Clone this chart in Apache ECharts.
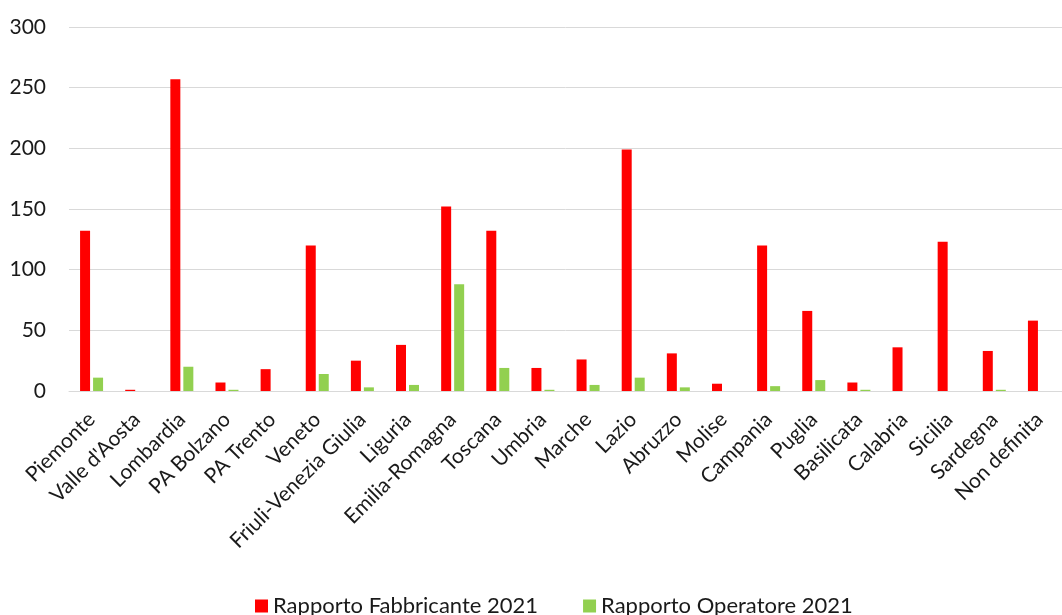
<!DOCTYPE html>
<html>
<head>
<meta charset="utf-8">
<script src="https://cdn.jsdelivr.net/npm/echarts@6/dist/echarts.min.js"></script>
<style>
  html, body { margin: 0; padding: 0; background: #fff; }
  #main { width: 1062px; height: 615px; }
</style>
</head>
<body>
<div id="main"></div>
<script>
var regioni = ['Piemonte', "Valle d'Aosta", 'Lombardia', 'PA Bolzano', 'PA Trento', 'Veneto',
  'Friuli-Venezia Giulia', 'Liguria', 'Emilia-Romagna', 'Toscana', 'Umbria', 'Marche', 'Lazio',
  'Abruzzo', 'Molise', 'Campania', 'Puglia', 'Basilicata', 'Calabria', 'Sicilia', 'Sardegna', 'Non definita'];
var fabbricante = [132, 1, 257, 7, 18, 120, 25, 38, 152, 132, 19, 26, 199, 31, 6, 120, 66, 7, 36, 123, 33, 58];
var operatore = [11, 0, 20, 1, 0, 14, 3, 5, 88, 19, 1, 5, 11, 3, 0, 4, 9, 1, 0, 0, 1, 0];
var yTicks = [0, 300, 50];

var chart = echarts.init(document.getElementById('main'));
var font = 'Lato, "Open Sans", sans-serif';
var option = {
    animation: false,
    textStyle: { fontFamily: font },
    // plot area runs past the right edge of the picture, like the original
    grid: { left: 69, right: -11, top: 27, bottom: 224 },
    legend: {
        top: 590,
        left: 250,
        itemWidth: 13,
        itemHeight: 13,
        itemGap: 45,
        icon: 'rect',
        textStyle: { fontSize: 22, color: '#1a1a1a', fontFamily: font },
        data: ['Rapporto Fabbricante 2021', 'Rapporto Operatore 2021']
    },
    xAxis: {
        type: 'category',
        data: regioni,
        axisLine: { lineStyle: { color: '#d9d9d9', width: 1 } },
        axisTick: { show: false },
        axisLabel: {
            interval: 0,
            rotate: 45,
            fontSize: 21,
            color: '#1a1a1a',
            margin: 25,
            fontFamily: font
        }
    },
    yAxis: {
        type: 'value',
        min: yTicks[0],
        max: yTicks[1],
        interval: yTicks[2],
        axisLine: { show: false },
        axisTick: { show: false },
        splitLine: { lineStyle: { color: '#d9d9d9', width: 1 } },
        axisLabel: { fontSize: 21, color: '#1a1a1a', margin: 23, fontFamily: font }
    },
    series: [
        {
            name: 'Rapporto Fabbricante 2021',
            type: 'bar',
            barWidth: 10,
            barGap: '30%',
            itemStyle: { color: '#ff0000' },
            data: fabbricante
        },
        {
            name: 'Rapporto Operatore 2021',
            type: 'bar',
            barWidth: 10,
            itemStyle: { color: '#92d050' },
            data: operatore
        }
    ]
};
chart.setOption(option);
</script>
</body>
</html>
